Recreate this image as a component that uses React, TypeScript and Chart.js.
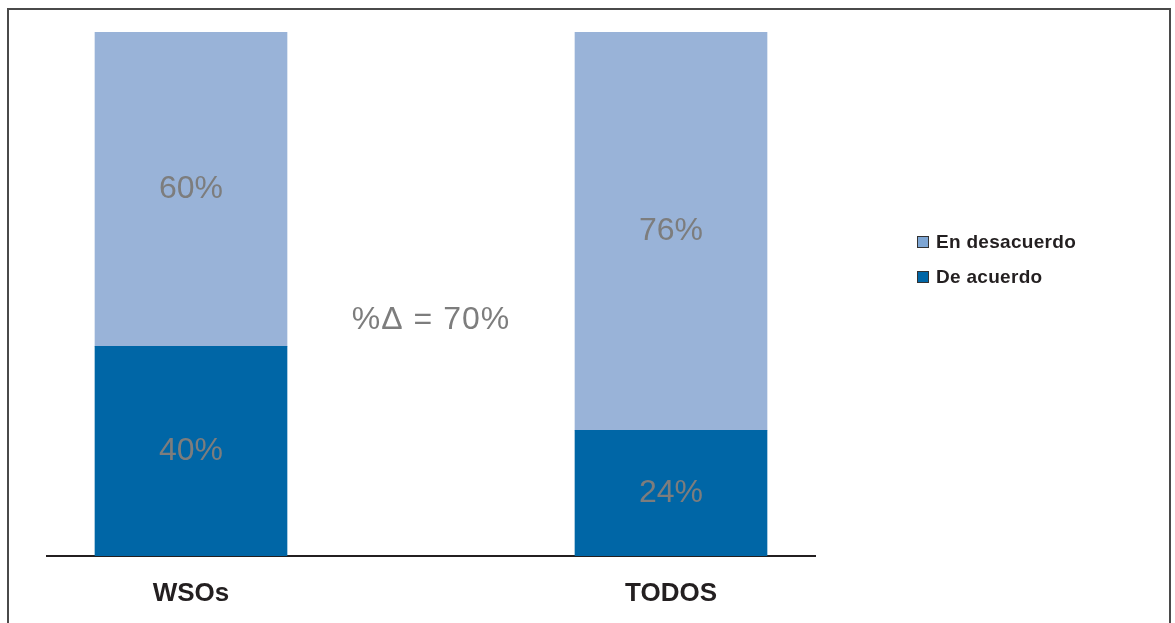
import React, { useEffect, useRef } from "react";
import { Chart, registerables } from "chart.js";

Chart.register(...registerables);

// ---- data ----
const categories = ["WSOs", "TODOS"];
const categoryPositions = [0, 1];
const deAcuerdo = [40, 24];
const enDesacuerdo = [60, 76];
const seriesLabels = ["De acuerdo", "En desacuerdo"];
const deltaLabel = "%Δ = 70%";
const deltaAt = { x: 0.5, y: 45 };

// ---- styles ----
const DARK = "#0066a6";
const LIGHT = "#99b3d8";
const LEGEND_LIGHT = "#7ea6d4";
const LABEL_GREY = "#7d7d7d";
const TEXT = "#231f20";
const FONT = "'Liberation Sans', Arial, Helvetica, sans-serif";

const labelsPlugin = {
  id: "segmentLabels",
  afterDatasetsDraw(chart: any) {
    const ctx = chart.ctx;
    ctx.save();
    ctx.font = `32px ${FONT}`;
    ctx.fillStyle = LABEL_GREY;
    ctx.textAlign = "center";
    ctx.textBaseline = "middle";
    chart.data.datasets.forEach((ds: any, di: number) => {
      const meta = chart.getDatasetMeta(di);
      meta.data.forEach((bar: any, i: number) => {
        const { x, y, base } = bar.getProps(["x", "y", "base"], true);
        ctx.fillText(`${ds.data[i].y}%`, x, (y + base) / 2);
      });
    });
    const xs = chart.scales.x;
    const ys = chart.scales.y;
    ctx.letterSpacing = "1px";
    ctx.fillText(deltaLabel, xs.getPixelForValue(deltaAt.x), ys.getPixelForValue(deltaAt.y));

    // legend (reverse order: top series first)
    const area = chart.chartArea;
    const boxX = area.right + 102;
    let rowY = 242;
    ctx.textAlign = "left";
    ctx.font = `bold 19px ${FONT}`;
    ctx.letterSpacing = "0.3px";
    const order = [...chart.data.datasets.keys()].reverse();
    order.forEach((di: number) => {
      const ds = chart.data.datasets[di];
      const fill = di === 1 ? LEGEND_LIGHT : ds.backgroundColor;
      ctx.fillStyle = fill;
      ctx.fillRect(boxX, rowY - 6, 12, 12);
      ctx.strokeStyle = "#333";
      ctx.lineWidth = 1;
      ctx.strokeRect(boxX + 0.5, rowY - 5.5, 11, 11);
      ctx.fillStyle = TEXT;
      ctx.fillText(ds.label, boxX + 19, rowY + 1);
      rowY += 35;
    });
    ctx.restore();
  },
};

export default function App() {
  const ref = useRef<HTMLCanvasElement | null>(null);

  useEffect(() => {
    if (!ref.current) return;
    const chart = new Chart(ref.current, {
      type: "bar",
      data: {
        datasets: [
          {
            label: seriesLabels[0],
            data: categoryPositions.map((x, i) => ({ x, y: deAcuerdo[i] })),
            backgroundColor: DARK,
            barThickness: 192,
          },
          {
            label: seriesLabels[1],
            data: categoryPositions.map((x, i) => ({ x, y: enDesacuerdo[i] })),
            backgroundColor: LIGHT,
            barThickness: 192,
          },
        ],
      },
      options: {
        animation: false,
        responsive: false,
        layout: { padding: { left: 47, right: 360, top: 32, bottom: 14 } },
        plugins: {
          legend: { display: false },
          tooltip: { enabled: false },
        },
        scales: {
          x: {
            type: "linear",
            stacked: true,
            offset: false,
            min: -0.3,
            max: 1.3,
            grid: { display: false, drawTicks: false },
            border: { display: true, color: TEXT, width: 2 },
            afterBuildTicks: (scale: any) => {
              scale.ticks = categoryPositions.map((v) => ({ value: v }));
            },
            afterFit: (scale: any) => {
              scale.height = 53;
            },
            ticks: {
              padding: 22,
              maxRotation: 0,
              autoSkip: false,
              color: TEXT,
              font: { family: FONT, size: 26, weight: "bold" },
              callback: (v: any) => {
                const idx = categoryPositions.indexOf(Number(v));
                return idx >= 0 ? categories[idx] : "";
              },
            },
          },
          y: {
            stacked: true,
            display: false,
            min: 0,
            max: 100,
          },
        },
      },
      plugins: [labelsPlugin],
    });
    return () => chart.destroy();
  }, []);

  return (
    <div
      style={{
        position: "fixed",
        left: 0,
        top: 0,
        width: 1175,
        height: 623,
        background: "#fff",
        overflow: "hidden",
      }}
    >
      <canvas ref={ref} width={1175} height={623} style={{ position: "absolute", left: 0, top: 0 }} />
      <div
        style={{
          position: "absolute",
          left: 7,
          top: 8,
          width: 1164,
          height: 700,
          boxSizing: "border-box",
          borderLeft: "2px solid #4a4a4a",
          borderTop: "2px solid #4a4a4a",
          borderRight: "2px solid #4a4a4a",
          pointerEvents: "none",
        }}
      />
    </div>
  );
}
